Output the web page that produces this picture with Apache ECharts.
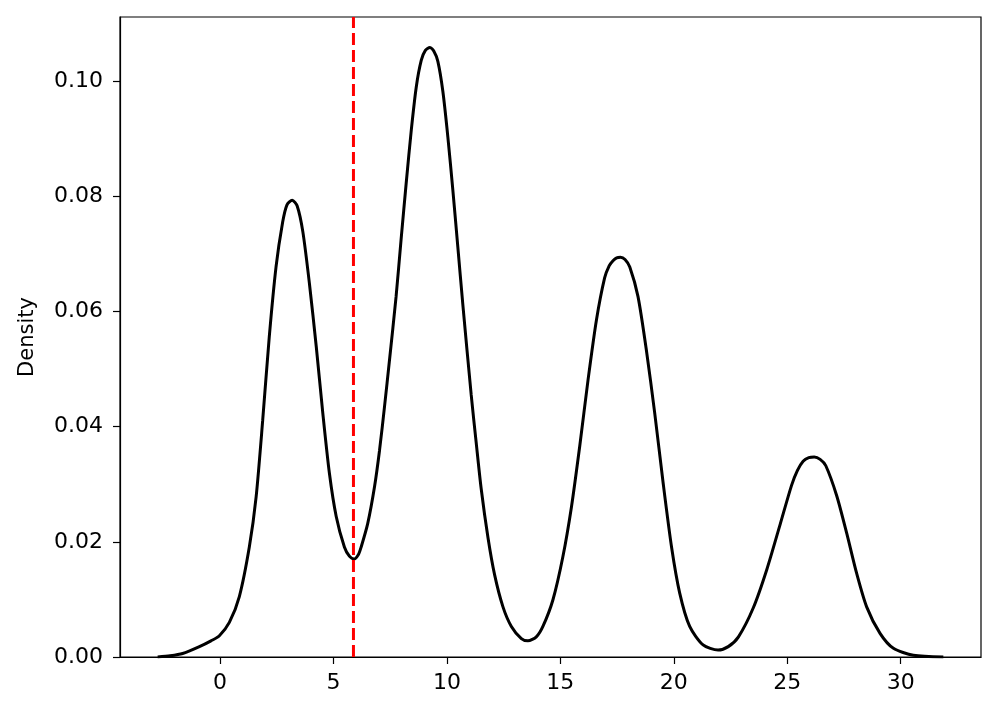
<!DOCTYPE html>
<html>
<head>
<meta charset="utf-8">
<script src="https://cdn.jsdelivr.net/npm/echarts@6/dist/echarts.min.js"></script>
<style>
  html, body { margin: 0; padding: 0; background: #fff; }
  #chart { width: 998px; height: 715px; }
</style>
</head>
<body>
<div id="chart"></div>
<script>
  // kde curve
  var kdeX = [-2.75, -2.2, -1.65, -0.91, -0.40, -0.03, 0.41, 0.85, 1.29, 1.59, 1.88, 2.17, 2.47, 2.76, 2.95, 3.18, 3.40, 3.65, 3.94, 4.24,
    4.53, 4.82, 5.12, 5.48, 5.70, 5.90, 6.10, 6.22, 6.51, 6.81, 7.03, 7.25, 7.47, 7.76, 7.98, 8.21, 8.43, 8.65, 8.87, 9.05, 9.25,
    9.42, 9.60, 9.82, 10.04, 10.26, 10.48, 10.70, 11.07, 11.29, 11.51, 11.81, 12.10, 12.47, 12.84, 13.28, 13.57, 13.94, 14.23, 14.67,
    15.11, 15.49, 15.85, 16.22, 16.59, 16.95, 17.15, 17.32, 17.48, 17.65, 17.85, 18.06, 18.42, 18.79, 19.16, 19.53, 19.90, 20.26, 20.70, 21.29, 21.95, 22.40, 22.85,
    23.50, 24.10, 24.70, 25.19, 25.45, 25.70, 25.95, 26.19, 26.45, 26.70, 27.18, 27.62, 28.06, 28.50, 29.09, 29.68, 30.56, 31.88]
  var kdeY = [0.0000, 0.0002, 0.0006, 0.0018, 0.0028, 0.0037, 0.0060, 0.0105, 0.0191, 0.0278, 0.0411, 0.0556, 0.0678, 0.0755, 0.0785, 0.0793, 0.0783, 0.0738, 0.0648, 0.0539,
    0.0423, 0.0319, 0.0244, 0.0191, 0.0175, 0.0170, 0.0178, 0.0191, 0.0232, 0.0296, 0.0359, 0.0435, 0.0516, 0.0626, 0.0725, 0.0825, 0.0915, 0.0990, 0.1036, 0.1053, 0.1058,
    0.1052, 0.1034, 0.0982, 0.0903, 0.0811, 0.0712, 0.0612, 0.0455, 0.0372, 0.0292, 0.0207, 0.0143, 0.0087, 0.0053, 0.0032, 0.0028, 0.0035, 0.0053, 0.0099,
    0.0174, 0.0261, 0.0365, 0.0481, 0.0585, 0.0658, 0.0679, 0.0688, 0.0693, 0.0694, 0.0690, 0.0677, 0.0626, 0.0533, 0.0423, 0.0302, 0.0191, 0.0111, 0.0053, 0.0021, 0.0012, 0.0018, 0.0035,
    0.0085, 0.0152, 0.0232, 0.0298, 0.0324, 0.0340, 0.0346, 0.0347, 0.0343, 0.0332, 0.0280, 0.0215, 0.0145, 0.0087, 0.0041, 0.0015, 0.0003, 0.0000]

  // red dashed marker
  var markerX = 5.88

  var xTicks = [0, 5, 10, 15, 20, 25, 30]
  var yTicks = [0, 0.02, 0.04, 0.06, 0.08, 0.10]

  var xMin = -4.41, xMax = 33.54
  var yMin = 0, yMax = 0.1111

  var curve = []
  for (var i = 0; i < kdeX.length; i++) {
    curve.push([kdeX[i], kdeY[i]])
  }

  var font = 'DejaVu Sans'
  var chart = echarts.init(document.getElementById('chart'))
  chart.setOption({
    animation: false,
    backgroundColor: '#fff',
    grid: {
      left: 120, right: 17, top: 17, bottom: 58,
      show: true, borderColor: '#000', borderWidth: 1.2, backgroundColor: 'transparent'
    },
    xAxis: {
      type: 'value',
      min: xMin,
      max: xMax,
      axisLine: {show: true, onZero: false, lineStyle: {color: '#000', width: 1.2}},
      axisTick: {show: true, length: 7, customValues: xTicks, lineStyle: {color: '#000', width: 1.2}},
      axisLabel: {
        customValues: xTicks,
        color: '#000', fontFamily: font, fontSize: 22, margin: 15,
        formatter: function (v) { return String(v) }
      },
      splitLine: {show: false}
    },
    yAxis: {
      type: 'value',
      min: yMin,
      max: yMax,
      name: 'Density',
      nameLocation: 'middle',
      nameGap: 82,
      nameTextStyle: {color: '#000', fontFamily: font, fontSize: 21},
      axisLine: {show: true, onZero: false, lineStyle: {color: '#000', width: 1.2}},
      axisTick: {show: true, length: 7, customValues: yTicks, lineStyle: {color: '#000', width: 1.2}},
      axisLabel: {
        customValues: yTicks,
        color: '#000', fontFamily: font, fontSize: 22, margin: 17,
        formatter: function (v) { return v.toFixed(2) }
      },
      splitLine: {show: false}
    },
    series: [
      {
        type: 'line',
        data: curve,
        smooth: 0.25,
        showSymbol: false,
        lineStyle: {color: '#000', width: 3}
      },
      {
        type: 'line',
        data: [[markerX, yMin], [markerX, yMax]],
        showSymbol: false,
        lineStyle: {color: '#ff0000', width: 3, type: [12, 5]}
      }
    ]
  })
</script>
</body>
</html>
